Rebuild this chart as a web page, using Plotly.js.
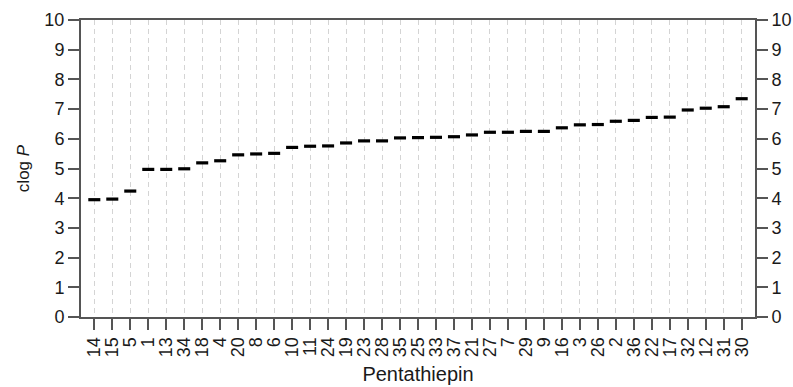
<!DOCTYPE html>
<html>
<head>
<meta charset="utf-8">
<script src="https://cdn.plot.ly/plotly-3.0.1.min.js"></script>
<style>
  html, body { margin: 0; padding: 0; background: #fff; }
  #chart { width: 793px; height: 387px; }
</style>
</head>
<body>
<div id="chart"></div>
<script>
// Pentathiepin compounds, ordered by increasing clog P
const compounds = ["14","15","5","1","13","34","18","4","20","8","6","10","11","24","19","23","28","35","25","33","37","21","27","7","29","9","16","3","26","2","36","22","17","32","12","31","30"];
const clogP = [3.95,3.97,4.24,4.97,4.97,4.99,5.19,5.26,5.46,5.49,5.51,5.71,5.75,5.76,5.86,5.93,5.93,6.03,6.04,6.05,6.07,6.13,6.22,6.22,6.25,6.25,6.37,6.47,6.48,6.59,6.62,6.72,6.73,6.97,7.03,7.08,7.35];
const yTicks = [0,1,2,3,4,5,6,7,8,9,10];

const fontFamily = '"Liberation Sans", Arial, sans-serif';
const axisColor = '#555555';
const textColor = '#1a1a1a';

// short horizontal dash per compound
const dashes = {
  type: 'scatter',
  mode: 'markers',
  x: compounds,
  y: clogP,
  marker: {
    symbol: 'line-ew',
    size: 8.6,
    color: '#000',
    line: { width: 3.2, color: '#000' }
  },
  hoverinfo: 'x+y',
  showlegend: false
};

// same points bound to the right-hand axis so that axis gets drawn
const rightAxisCarrier = {
  type: 'scatter',
  mode: 'markers',
  x: compounds,
  y: clogP,
  yaxis: 'y2',
  marker: { opacity: 0, size: 1 },
  hoverinfo: 'skip',
  showlegend: false
};

const yAxisCommon = {
  range: [0, 10],
  tickmode: 'array',
  tickvals: yTicks,
  ticktext: yTicks.map(String),
  ticks: 'outside',
  ticklen: 11,
  tickwidth: 2,
  tickcolor: axisColor,
  showline: true,
  linecolor: axisColor,
  linewidth: 2,
  showgrid: false,
  zeroline: false,
  fixedrange: true,
  tickfont: { family: fontFamily, size: 18, color: textColor }
};

const layout = {
  width: 793,
  height: 387,
  margin: { l: 81, r: 38, t: 20, b: 70 },
  paper_bgcolor: '#fff',
  plot_bgcolor: '#fff',
  font: { family: fontFamily, color: textColor },
  xaxis: {
    type: 'category',
    categoryorder: 'array',
    categoryarray: compounds,
    tickmode: 'array',
    tickvals: compounds,
    ticktext: compounds,
    range: [-0.74, 36.74],
    tickangle: -90,
    ticks: 'outside',
    ticklen: 11,
    tickwidth: 2,
    tickcolor: axisColor,
    showline: true,
    linecolor: axisColor,
    linewidth: 2,
    mirror: true,
    showgrid: true,
    gridcolor: '#d4d4d4',
    gridwidth: 1,
    griddash: '5px,4px',
    zeroline: false,
    automargin: false,
    tickfont: { family: fontFamily, size: 18, color: textColor },
    title: { text: 'Pentathiepin', font: { family: fontFamily, size: 20, color: textColor }, standoff: 11 }
  },
  yaxis: Object.assign({}, yAxisCommon, {
    side: 'left',
    automargin: false,
    title: { text: 'clog <i>P</i>', font: { family: fontFamily, size: 17, color: textColor }, standoff: 10 }
  }),
  yaxis2: Object.assign({}, yAxisCommon, {
    side: 'right',
    overlaying: 'y',
    anchor: 'x',
    automargin: false
  })
};

Plotly.newPlot('chart', [dashes, rightAxisCarrier], layout, { displayModeBar: false, staticPlot: true });
</script>
</body>
</html>
